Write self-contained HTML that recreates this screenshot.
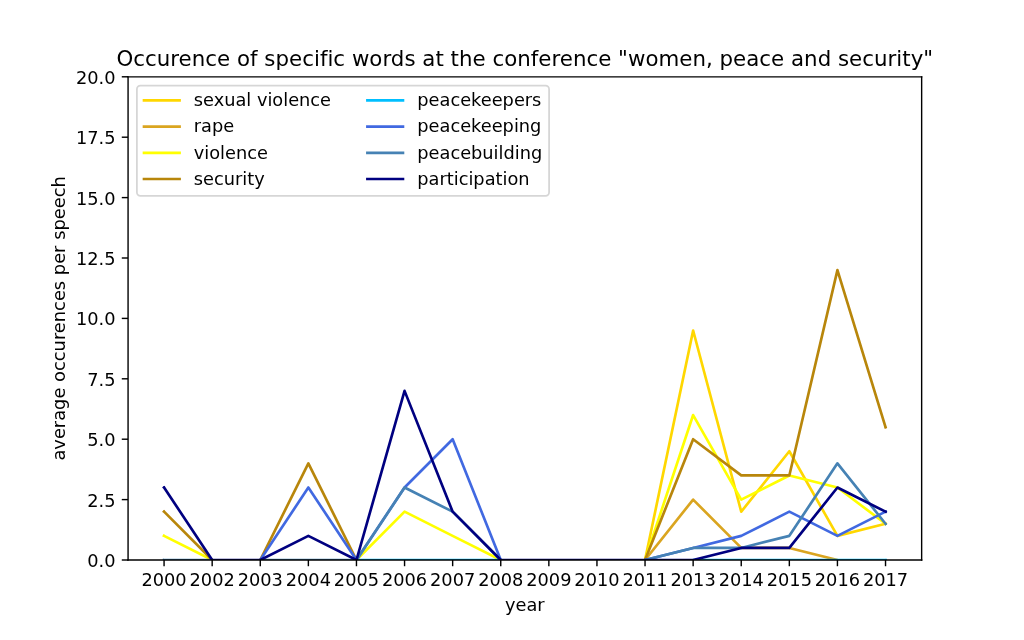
<!DOCTYPE html>
<html lang="en"><head><meta charset="utf-8"><title>Occurence of specific words</title>
<style>html,body{margin:0;padding:0;background:#fff;}body{width:1024px;height:640px;overflow:hidden;}svg{display:block;}text{font-family:"DejaVu Sans","Liberation Sans",sans-serif;fill:#000;}.t{font-size:17.778px}.h{font-size:21.333px}</style></head><body>
<svg width="1024" height="640" viewBox="0 0 1024 640">
<rect width="1024" height="640" fill="#fff"/>
<defs><clipPath id="ax"><rect x="128.00" y="76.80" width="793.60" height="483.20"/></clipPath></defs>
<g clip-path="url(#ax)" fill="none" stroke-width="2.667" stroke-linejoin="round" stroke-linecap="round">
<line stroke="#ffd700" stroke-linecap="butt" x1="885.53" y1="523.76" x2="886.82" y2="523.44"/>
<polyline stroke="#ffd700" points="645.04,560.00 693.14,330.48 741.24,511.68 789.33,451.28 837.43,535.84 885.53,523.76"/>
<polyline stroke="#daa520" points="645.04,560.00 693.14,499.60 741.24,547.92 789.33,547.92 837.43,560.00"/>
<line stroke="#ffff00" stroke-linecap="butt" x1="164.07" y1="535.84" x2="162.88" y2="535.24"/>
<polyline stroke="#ffff00" points="164.07,535.84 212.17,560.00"/>
<polyline stroke="#ffff00" points="356.46,560.00 404.56,511.68 452.65,535.84 500.75,560.00"/>
<line stroke="#ffff00" stroke-linecap="butt" x1="885.53" y1="523.76" x2="886.59" y2="524.56"/>
<polyline stroke="#ffff00" points="645.04,560.00 693.14,415.04 741.24,499.60 789.33,475.44 837.43,487.52 885.53,523.76"/>
<line stroke="#b8860b" stroke-linecap="butt" x1="164.07" y1="511.68" x2="163.13" y2="510.74"/>
<polyline stroke="#b8860b" points="164.07,511.68 212.17,560.00"/>
<polyline stroke="#b8860b" points="260.27,560.00 308.36,463.36 356.46,560.00"/>
<line stroke="#b8860b" stroke-linecap="butt" x1="885.53" y1="427.12" x2="885.92" y2="428.39"/>
<polyline stroke="#b8860b" points="645.04,560.00 693.14,439.20 741.24,475.44 789.33,475.44 837.43,270.08 885.53,427.12"/>
<polyline stroke="#00bfff" points="356.46,560.00 404.56,560.00 452.65,560.00 500.75,560.00"/>
<line stroke="#00bfff" stroke-linecap="butt" x1="885.53" y1="560.00" x2="886.86" y2="560.00"/>
<polyline stroke="#00bfff" points="693.14,560.00 741.24,560.00 789.33,560.00 837.43,560.00 885.53,560.00"/>
<polyline stroke="#4169e1" points="260.27,560.00 308.36,487.52 356.46,560.00 404.56,487.52 452.65,439.20 500.75,560.00"/>
<line stroke="#4169e1" stroke-linecap="butt" x1="885.53" y1="511.68" x2="886.72" y2="511.08"/>
<polyline stroke="#4169e1" points="645.04,560.00 693.14,547.92 741.24,535.84 789.33,511.68 837.43,535.84 885.53,511.68"/>
<line stroke="#4682b4" stroke-linecap="butt" x1="164.07" y1="560.00" x2="162.74" y2="560.00"/>
<polyline stroke="#4682b4" points="164.07,560.00 212.17,560.00"/>
<polyline stroke="#4682b4" points="260.27,560.00 308.36,560.00 356.46,560.00 404.56,487.52 452.65,511.68 500.75,560.00"/>
<line stroke="#4682b4" stroke-linecap="butt" x1="885.53" y1="523.76" x2="886.36" y2="524.80"/>
<polyline stroke="#4682b4" points="645.04,560.00 693.14,547.92 741.24,547.92 789.33,535.84 837.43,463.36 885.53,523.76"/>
<line stroke="#000080" stroke-linecap="butt" x1="164.07" y1="487.52" x2="163.34" y2="486.41"/>
<line stroke="#000080" stroke-linecap="butt" x1="885.53" y1="511.68" x2="886.72" y2="512.28"/>
<polyline stroke="#000080" points="164.07,487.52 212.17,560.00 260.27,560.00 308.36,535.84 356.46,560.00 404.56,390.88 452.65,511.68 500.75,560.00 548.85,560.00 596.95,560.00 645.04,560.00 693.14,560.00 741.24,547.92 789.33,547.92 837.43,487.52 885.53,511.68"/>
</g>
<g stroke="#000" stroke-width="1.422" fill="none">
<line x1="164.07" y1="560.00" x2="164.07" y2="566.22"/>
<line x1="212.17" y1="560.00" x2="212.17" y2="566.22"/>
<line x1="260.27" y1="560.00" x2="260.27" y2="566.22"/>
<line x1="308.36" y1="560.00" x2="308.36" y2="566.22"/>
<line x1="356.46" y1="560.00" x2="356.46" y2="566.22"/>
<line x1="404.56" y1="560.00" x2="404.56" y2="566.22"/>
<line x1="452.65" y1="560.00" x2="452.65" y2="566.22"/>
<line x1="500.75" y1="560.00" x2="500.75" y2="566.22"/>
<line x1="548.85" y1="560.00" x2="548.85" y2="566.22"/>
<line x1="596.95" y1="560.00" x2="596.95" y2="566.22"/>
<line x1="645.04" y1="560.00" x2="645.04" y2="566.22"/>
<line x1="693.14" y1="560.00" x2="693.14" y2="566.22"/>
<line x1="741.24" y1="560.00" x2="741.24" y2="566.22"/>
<line x1="789.33" y1="560.00" x2="789.33" y2="566.22"/>
<line x1="837.43" y1="560.00" x2="837.43" y2="566.22"/>
<line x1="885.53" y1="560.00" x2="885.53" y2="566.22"/>
<line x1="128.00" y1="560.00" x2="121.78" y2="560.00"/>
<line x1="128.00" y1="499.60" x2="121.78" y2="499.60"/>
<line x1="128.00" y1="439.20" x2="121.78" y2="439.20"/>
<line x1="128.00" y1="378.80" x2="121.78" y2="378.80"/>
<line x1="128.00" y1="318.40" x2="121.78" y2="318.40"/>
<line x1="128.00" y1="258.00" x2="121.78" y2="258.00"/>
<line x1="128.00" y1="197.60" x2="121.78" y2="197.60"/>
<line x1="128.00" y1="137.20" x2="121.78" y2="137.20"/>
<line x1="128.00" y1="76.80" x2="121.78" y2="76.80"/>
<g stroke-linecap="square" stroke-width="1.4">
<line x1="128.07" y1="76.90" x2="128.07" y2="560.03"/>
<line x1="921.65" y1="76.90" x2="921.65" y2="560.03"/>
<line x1="128.07" y1="560.03" x2="921.65" y2="560.03"/>
<line x1="128.07" y1="76.90" x2="921.65" y2="76.90"/>
</g>
</g>
<g class="t" text-anchor="middle">
<text x="164.07" y="586.10">2000</text>
<text x="212.17" y="586.10">2002</text>
<text x="260.27" y="586.10">2003</text>
<text x="308.36" y="586.10">2004</text>
<text x="356.46" y="586.10">2005</text>
<text x="404.56" y="586.10">2006</text>
<text x="452.65" y="586.10">2007</text>
<text x="500.75" y="586.10">2008</text>
<text x="548.85" y="586.10">2009</text>
<text x="596.95" y="586.10">2010</text>
<text x="645.04" y="586.10">2011</text>
<text x="693.14" y="586.10">2013</text>
<text x="741.24" y="586.10">2014</text>
<text x="789.33" y="586.10">2015</text>
<text x="837.43" y="586.10">2016</text>
<text x="885.53" y="586.10">2017</text>
</g>
<g class="t" text-anchor="end">
<text x="115.56" y="566.95">0.0</text>
<text x="115.56" y="506.55">2.5</text>
<text x="115.56" y="446.15">5.0</text>
<text x="115.56" y="385.75">7.5</text>
<text x="115.56" y="325.35">10.0</text>
<text x="115.56" y="264.95">12.5</text>
<text x="115.56" y="204.55">15.0</text>
<text x="115.56" y="144.15">17.5</text>
<text x="115.56" y="83.75">20.0</text>
</g>
<text class="t" text-anchor="middle" x="524.80" y="610.60">year</text>
<text class="t" text-anchor="middle" letter-spacing="0.035" transform="translate(64.60,318.40) rotate(-90)">average occurences per speech</text>
<text class="h" text-anchor="middle" letter-spacing="0.018" x="524.80" y="65.80">Occurence of specific words at the conference "women, peace and security"</text>
<rect x="136.89" y="85.69" width="412.20" height="110.10" rx="3.56" ry="3.56" fill="#fff" fill-opacity="0.8" stroke="#ccc" stroke-opacity="0.8" stroke-width="1.778"/>
<g fill="none" stroke-width="2.667" stroke-linecap="square">
<line stroke="#ffd700" x1="144.00" y1="100.35" x2="179.56" y2="100.35"/>
<line stroke="#daa520" x1="144.00" y1="126.58" x2="179.56" y2="126.58"/>
<line stroke="#ffff00" x1="144.00" y1="152.81" x2="179.56" y2="152.81"/>
<line stroke="#b8860b" x1="144.00" y1="179.04" x2="179.56" y2="179.04"/>
<line stroke="#00bfff" x1="367.40" y1="100.35" x2="402.96" y2="100.35"/>
<line stroke="#4169e1" x1="367.40" y1="126.58" x2="402.96" y2="126.58"/>
<line stroke="#4682b4" x1="367.40" y1="152.81" x2="402.96" y2="152.81"/>
<line stroke="#000080" x1="367.40" y1="179.04" x2="402.96" y2="179.04"/>
</g>
<g class="t">
<text x="193.78" y="106.13">sexual violence</text>
<text x="193.78" y="132.36">rape</text>
<text x="193.78" y="158.59">violence</text>
<text x="193.78" y="184.82">security</text>
<text x="417.30" y="106.13">peacekeepers</text>
<text x="417.30" y="132.36">peacekeeping</text>
<text x="417.30" y="158.59">peacebuilding</text>
<text x="417.30" y="184.82">participation</text>
</g>
</svg></body></html>
